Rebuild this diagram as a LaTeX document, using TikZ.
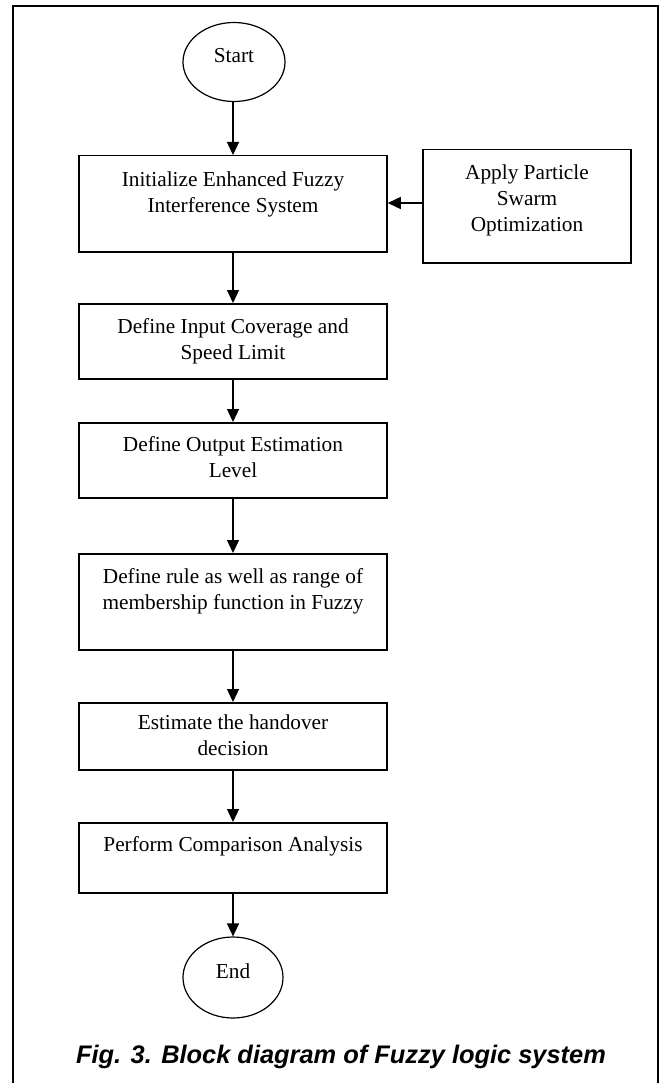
\documentclass[tikz,border=0pt]{standalone}
\usepackage{fontspec}
\setmainfont{Liberation Serif}
\newfontfamily\capfont{Liberation Sans}
\usetikzlibrary{arrows.meta,shapes.geometric}

% text block of a process box: height, width, first-baseline drop, lines
\newcommand{\boxbody}[4]{\parbox[t][#1][t]{#2}{\centering\rule{0pt}{#3}#4}}
\newcommand{\boxfont}{\fontsize{21.3}{25.7}\selectfont}

\tikzset{
  stepbox/.style={draw, line width=1.5pt, inner sep=0pt, anchor=north, font=\boxfont},
  termnode/.style={draw, ellipse, line width=1.2pt, inner sep=0pt,
                   text height=8pt, text depth=6pt, font=\boxfont},
  flow/.style={line width=1.3pt, -{Triangle[length=13pt,width=12pt]}},
}

\begin{document}
\begin{tikzpicture}[x=1pt,y=-1pt]
\useasboundingbox (0,0) rectangle (668,1083);
\fill[white] (0,0) rectangle (668,1083);

% frame, open at the bottom
\draw[line width=2.2pt] (13,1100) -- (13,6) -- (658,6) -- (658,1100);

% terminals
\node[termnode, minimum width=102pt, minimum height=79pt] (start) at (234,62) {Start};
\node[termnode, minimum width=100pt, minimum height=81pt] (end) at (233,977.5) {End};

% process boxes
\node[stepbox] (init) at (233,155)
  {\boxbody{96pt}{308pt}{31pt}{Initialize Enhanced Fuzzy\\Interference System}};
\node[stepbox] (pso) at (527,149)
  {\boxbody{113pt}{208pt}{30pt}{Apply Particle\\Swarm\\Optimization}};
\node[stepbox] (input) at (233,303)
  {\boxbody{75pt}{308pt}{30pt}{Define Input Coverage and\\Speed Limit}};
\node[stepbox] (output) at (233,422)
  {\boxbody{75pt}{308pt}{29pt}{Define Output Estimation\\Level}};
\node[stepbox] (rule) at (233,553)
  {\boxbody{96pt}{308pt}{30pt}{Define rule as well as range of\\membership function in Fuzzy}};
\node[stepbox] (estimate) at (233,702)
  {\boxbody{67pt}{308pt}{27pt}{Estimate the handover\\decision}};
\node[stepbox] (perform) at (233,822)
  {\boxbody{70pt}{308pt}{29pt}{Perform Comparison Analysis}};

% connectors
\draw[flow] (start.south -| init.north) -- (init.north);
\draw[flow] (pso.west |- 0,203) -- (init.east |- 0,203);
\draw[flow] (init.south) -- (input.north);
\draw[flow] (input.south) -- (output.north);
\draw[flow] (output.south) -- (rule.north);
\draw[flow] (rule.south) -- (estimate.north);
\draw[flow] (estimate.south) -- (perform.north);
\draw[flow] (perform.south) -- (end.north);

% caption
\node[anchor=base, inner sep=0pt, font={\capfont\bfseries\itshape\fontsize{25.4}{30}\selectfont}]
  (caption) at (341,1063) {Fig. 3. Block diagram of Fuzzy logic system};
\end{tikzpicture}
\end{document}
